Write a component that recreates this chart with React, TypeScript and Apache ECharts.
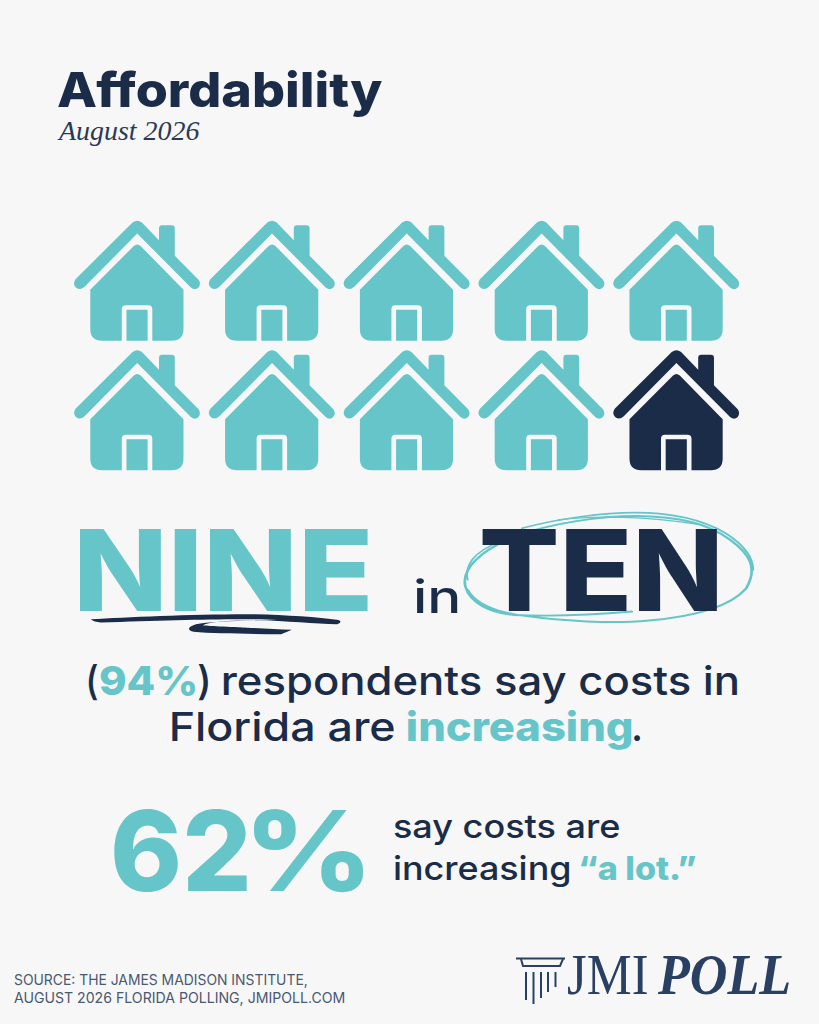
import React, { useEffect, useRef } from "react";
import * as echarts from "echarts";

// ---- data ----
const TOTAL_HOUSES = 10;
const AGREE_HOUSES = 9;
const HOUSE_COLUMNS = [0, 1, 2, 3, 4];
const HOUSE_ROWS = [0, 1];
const TITLE = "Affordability";
const SUBTITLE = "August 2026";
const COUNT_WORDS = ["NINE", "in", "TEN"];
const SHARE_RISING = "94%";
const SHARE_RISING_A_LOT = ["62", "%"];
const SOURCE_LINES = [
  "SOURCE: THE JAMES MADISON INSTITUTE,",
  "AUGUST 2026 FLORIDA POLLING, JMIPOLL.COM",
];
const LOGO_WORDS = ["JMI", "POLL"];

// ---- style ----
const TEAL = "#65c5c8";
const NAVY = "#1a2c48";
const LOGO = "#2a4063";
const BG = "#f7f7f7";
const SANS = "Inter, 'Open Sans', sans-serif";
const SERIF = "'Liberation Serif', serif";

const HOUSE_PATH =
  "path://M218 35 Q232 24 246 35 L297 88 L297 52 Q297 43 306 43 L335 43 Q344 43 344 52 L344 135 L415 207 Q424 220 414 231 Q404 240 392 230 L232 68 L75 228 Q62 240 50 231 Q38 220 48 205 Z" +
  "M222 105 Q232 96 242 105 L370 237 L370 355 Q370 390 335 390 L277 390 L277 295 Q277 283 265 283 L198 283 Q186 283 186 295 L186 390 L127 390 Q92 390 92 355 L92 237 Z" +
  "M200 297 L263 297 L263 390 L200 390 Z";

// Hand-drawn accents, traced from the 710x140 region at (60, 500).
echarts.graphic.registerShape(
  "brushUnderline",
  echarts.graphic.extendPath(
    "M68 358 C150 352 300 342 430 343 C500 345 570 352 615 360 Q625 367 612 373 C560 372 500 362 420 361 C370 362 330 366 315 376 C340 380 440 384 512 390 L488 403 C420 402 340 402 295 396 Q272 386 300 373 C330 366 400 362 480 360 C400 355 250 360 90 368 Q75 366 68 358 Z",
    {}
  )
);
echarts.graphic.registerShape(
  "ringStrokeA",
  echarts.graphic.extendPath(
    "M1262 335 C1180 345 1080 350 1000 345 C950 338 905 310 895 260 C885 205 930 150 1010 105 C1090 70 1190 48 1270 48 C1370 50 1430 70 1480 120 C1525 165 1540 205 1515 265 C1480 320 1400 350 1300 362 C1220 372 1110 365 1010 345 C960 335 915 310 900 270",
    {}
  )
);
echarts.graphic.registerShape(
  "ringStrokeB",
  echarts.graphic.extendPath(
    "M1020 85 C1100 55 1200 38 1270 38 C1350 38 1420 60 1470 100 C1510 135 1530 170 1530 210",
    {}
  )
);
echarts.graphic.registerShape(
  "ringStrokeC",
  echarts.graphic.extendPath(
    "M900 240 C890 180 935 140 990 115 M1100 60 C1180 45 1300 50 1405 72",
    {}
  )
);

const ctx = document.createElement("canvas").getContext("2d") as CanvasRenderingContext2D;

type Seg = {
  text: string;
  left: number;
  right: number;
  baseline: number;
  size: number;
  weight?: number | string;
  style?: string;
  family?: string;
  fill: string;
};

function seg(s: Seg) {
  const weight = s.weight ?? 500;
  const fontStyle = s.style ?? "normal";
  const family = s.family ?? SANS;
  ctx.font = `${fontStyle} ${weight} ${s.size}px ${family}`;
  const m = ctx.measureText(s.text);
  const width = m.actualBoundingBoxRight + m.actualBoundingBoxLeft;
  const scaleX = (s.right - s.left) / width;
  const central = (m.fontBoundingBoxAscent - m.fontBoundingBoxDescent) / 2;
  return {
    type: "text",
    x: s.left + m.actualBoundingBoxLeft * scaleX,
    y: s.baseline - central,
    scaleX,
    silent: true,
    style: {
      text: s.text,
      fontSize: s.size,
      fontWeight: weight,
      fontStyle,
      fontFamily: family,
      fill: s.fill,
      align: "left",
      verticalAlign: "middle",
    },
  };
}

function App() {
  const ref = useRef<HTMLDivElement>(null);
  useEffect(() => {
    const chart = echarts.init(ref.current as HTMLDivElement, undefined, { renderer: "svg" });
    const cells: number[][] = [];
    HOUSE_ROWS.forEach((r) => HOUSE_COLUMNS.forEach((c) => cells.push([c, r])));
    const traced = { x: 60, y: 500, scaleX: 710 / 1568, scaleY: 1 / 3 };
    const ringStyle = { fill: "none", stroke: TEAL, lineWidth: 6, lineCap: "round" };
    const columnBars: number[][] = [
      [526, 1000],
      [533.5, 1004],
      [541, 998],
      [548, 992],
      [555.5, 987],
    ];

    chart.setOption({
      animation: false,
      backgroundColor: BG,
      grid: { left: 69.6, top: 216, width: 674, height: 259 },
      xAxis: { type: "value", min: -0.5, max: 4.5, show: false },
      yAxis: { type: "value", min: -0.5, max: 1.5, inverse: true, show: false },
      series: [
        {
          type: "scatter",
          name: "Say costs are increasing",
          symbol: HOUSE_PATH,
          symbolSize: [126, 120],
          itemStyle: { color: TEAL, opacity: 1 },
          silent: true,
          data: cells.slice(0, AGREE_HOUSES),
        },
        {
          type: "scatter",
          name: "Other",
          symbol: HOUSE_PATH,
          symbolSize: [126, 120],
          itemStyle: { color: NAVY, opacity: 1 },
          silent: true,
          data: cells.slice(AGREE_HOUSES, TOTAL_HOUSES),
        },
      ],
      graphic: [
        seg({ text: TITLE, left: 58, right: 383, baseline: 107.5, size: 48, weight: 800, fill: NAVY }),
        seg({ text: SUBTITLE, left: 57, right: 200, baseline: 140, size: 27, weight: 400, style: "italic", family: SERIF, fill: "#2a3a55" }),

        { type: "ringStrokeC", ...traced, style: { ...ringStyle, lineWidth: 4 } },
        { type: "ringStrokeB", ...traced, style: { ...ringStyle, lineWidth: 5 } },
        { type: "ringStrokeA", ...traced, style: ringStyle },

        seg({ text: COUNT_WORDS[0], left: 79.5, right: 368, baseline: 611, size: 113, weight: 800, fill: TEAL }),
        seg({ text: COUNT_WORDS[1], left: 415.5, right: 458, baseline: 613, size: 46, weight: 500, fill: NAVY }),
        seg({ text: COUNT_WORDS[2], left: 482, right: 718, baseline: 611, size: 113, weight: 800, fill: NAVY }),
        { type: "brushUnderline", ...traced, style: { fill: NAVY } },

        seg({ text: "(", left: 88, right: 98, baseline: 695, size: 40, fill: NAVY }),
        seg({ text: SHARE_RISING, left: 100, right: 195, baseline: 695, size: 40, weight: 800, fill: TEAL }),
        seg({ text: ")", left: 198, right: 208, baseline: 695, size: 40, fill: NAVY }),
        seg({ text: "respondents say costs in", left: 223, right: 738, baseline: 695, size: 40, fill: NAVY }),
        seg({ text: "Florida are", left: 172, right: 394, baseline: 741, size: 40, fill: NAVY }),
        seg({ text: "increasing", left: 408, right: 632, baseline: 741, size: 40, weight: 800, fill: TEAL }),
        seg({ text: ".", left: 634, right: 640, baseline: 741, size: 40, fill: NAVY }),

        seg({ text: SHARE_RISING_A_LOT[0], left: 114, right: 247, baseline: 891, size: 111, weight: 800, fill: TEAL }),
        seg({ text: SHARE_RISING_A_LOT[1], left: 254, right: 364, baseline: 891, size: 111, weight: 800, fill: TEAL }),
        seg({ text: "say costs are", left: 394, right: 619, baseline: 838, size: 33, fill: NAVY }),
        seg({ text: "increasing", left: 394, right: 570, baseline: 880, size: 33, fill: NAVY }),
        seg({ text: "“a lot.”", left: 580, right: 696, baseline: 880, size: 33, weight: 800, fill: TEAL }),

        seg({ text: SOURCE_LINES[0], left: 14, right: 307, baseline: 985, size: 14, weight: 400, fill: "#4a5870" }),
        seg({ text: SOURCE_LINES[1], left: 14, right: 345, baseline: 1003, size: 14, weight: 400, fill: "#4a5870" }),

        seg({ text: LOGO_WORDS[0], left: 568, right: 647, baseline: 994, size: 56, weight: 400, family: SERIF, fill: LOGO }),
        seg({ text: LOGO_WORDS[1], left: 657, right: 789, baseline: 994, size: 56, weight: 700, style: "italic", family: SERIF, fill: LOGO }),

        { type: "line", shape: { x1: 516, y1: 958.5, x2: 565, y2: 958.5 }, style: { stroke: LOGO, lineWidth: 2 } },
        { type: "polyline", shape: { points: [[521, 959], [523, 966], [560, 966], [563, 959]] }, style: { stroke: LOGO, lineWidth: 2, fill: "none" } },
        ...columnBars.map(([x, end]) => ({
          type: "line",
          shape: { x1: x, y1: 972, x2: x, y2: end },
          style: { stroke: LOGO, lineWidth: 2 },
        })),
      ],
    });
    return () => chart.dispose();
  }, []);
  return (
    <div
      ref={ref}
      style={{ position: "absolute", left: 0, top: 0, width: 819, height: 1024, background: BG }}
    />
  );
}

export default App;
